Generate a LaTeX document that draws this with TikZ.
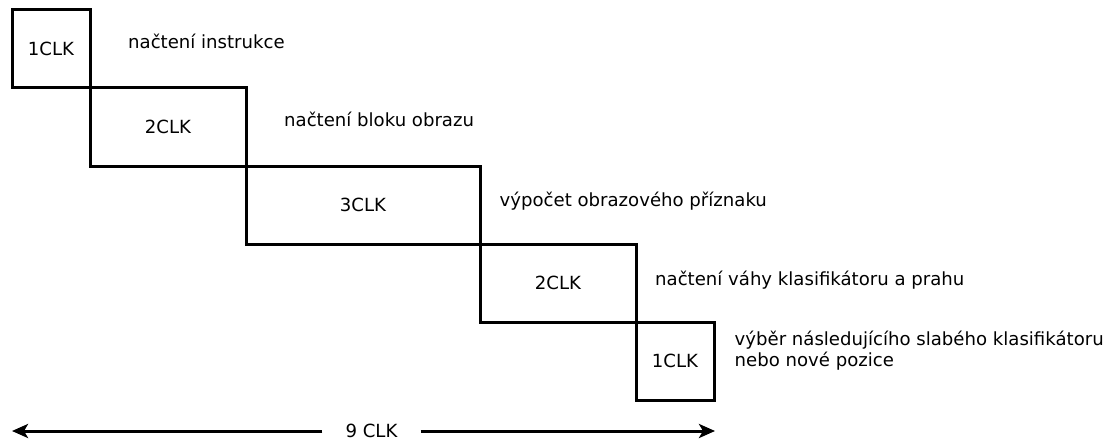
\documentclass[tikz,border=0pt]{standalone}
\usepackage{fontspec}
\setmainfont{DejaVu Sans}
\usetikzlibrary{arrows.meta}
\begin{document}
\begin{tikzpicture}[x=1pt,y=-1pt,
  txt/.style={font=\fontsize{18.1pt}{21pt}\selectfont},
  stage/.style={txt, draw=black, line width=3pt, minimum height=78pt, inner sep=0pt},
  note/.style={txt, anchor=base west, inner sep=0pt, align=left},
  span/.style={line width=3pt, -{Stealth[length=16pt,width=14pt,inset=4pt]}}]
  \useasboundingbox (0,0) rectangle (1113,441);

  % pipeline stages, one clock = 78 units wide
  \node[stage, minimum width=78pt]  (s1) at (51,49)    {1CLK};
  \node[stage, minimum width=156pt] (s2) at (168,127)  {2CLK};
  \node[stage, minimum width=234pt] (s3) at (363,205)  {3CLK};
  \node[stage, minimum width=156pt] (s4) at (558,283)  {2CLK};
  \node[stage, minimum width=78pt]  (s5) at (675,361)  {1CLK};

  % stage descriptions
  \node[note] (d1) at (128,49)    {načtení instrukce};
  \node[note] (d2) at (284,127)   {načtení bloku obrazu};
  \node[note] (d3) at (499.5,206) {výpočet obrazového příznaku};
  \node[note] (d4) at (655,285)   {načtení váhy klasifikátoru a prahu};
  \node[note] (d5) at (734.5,366) {výběr následujícího slabého klasifikátoru\\nebo nové pozice};

  % total duration
  \coordinate (tl) at (12,431);
  \coordinate (tr) at (715,431);
  \node[txt, inner xsep=23pt, inner ysep=0pt] (total) at (371.5,431) {9 CLK};
  \draw[span] (total.west) -- (tl);
  \draw[span] (total.east) -- (tr);
\end{tikzpicture}
\end{document}
